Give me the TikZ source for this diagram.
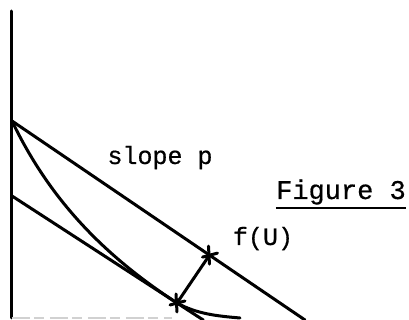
\documentclass[tikz,border=0pt]{standalone}
\usepackage{fontspec}
\newfontfamily\typer{Liberation Mono}[FakeBold=0.6]
\usetikzlibrary{calc}

\tikzset{
  curve/.style={line width=1.5pt, line cap=round},
  lbl/.style={font=\typer\fontsize{12.5}{14}\selectfont, inner sep=0pt, anchor=base},
}

\begin{document}
\begin{tikzpicture}[x=0.5pt,y=-0.5pt]
\useasboundingbox (0,0) rectangle (409,320);
\coordinate (O) at (12,318);
\coordinate (ytop) at (12,11);
\coordinate (xend) at (172,318);
\coordinate (A) at (12,121);
\coordinate (Aend) at (305,320);
\coordinate (B) at (12,196);
\coordinate (T) at (177,303);
\coordinate (Bend) at ($(B)!1.16!(T)$);
\coordinate (Cend) at (240,318);
\coordinate (P) at ($(A)!(T)!(Aend)$);
\draw[curve] (ytop) -- (O);
\draw[black!18, line width=0.7pt, dash pattern=on 9pt off 2pt on 5pt off 3pt] (O) -- (xend);
\draw[curve] (A) -- (Aend);
\draw[curve] (B) -- (Bend);
\draw[curve] (A) .. controls (48,196) and (100,253) .. (T) .. controls (197,314) and (217,316) .. (Cend);
\draw[curve] (T) -- (P);
\foreach \p in {P,T} {
  \draw[curve] ($(\p)+(-7,2)$) -- ($(\p)+(8,-2)$);
  \draw[curve] ($(\p)+(-1,-9)$) -- ($(\p)+(0,9)$);
}
\node[lbl] (slope) at (160,164) {slope p};
\node[lbl] (fu) at (263,245) {f(U)};
\node[lbl, font=\typer\fontsize{13.5}{16}\selectfont] (fig) at (341,199) {Figure 3};
\draw[line width=1pt] ([yshift=-1.5pt]fig.south west) -- ([yshift=-1.5pt]fig.south east);
\end{tikzpicture}
\end{document}
